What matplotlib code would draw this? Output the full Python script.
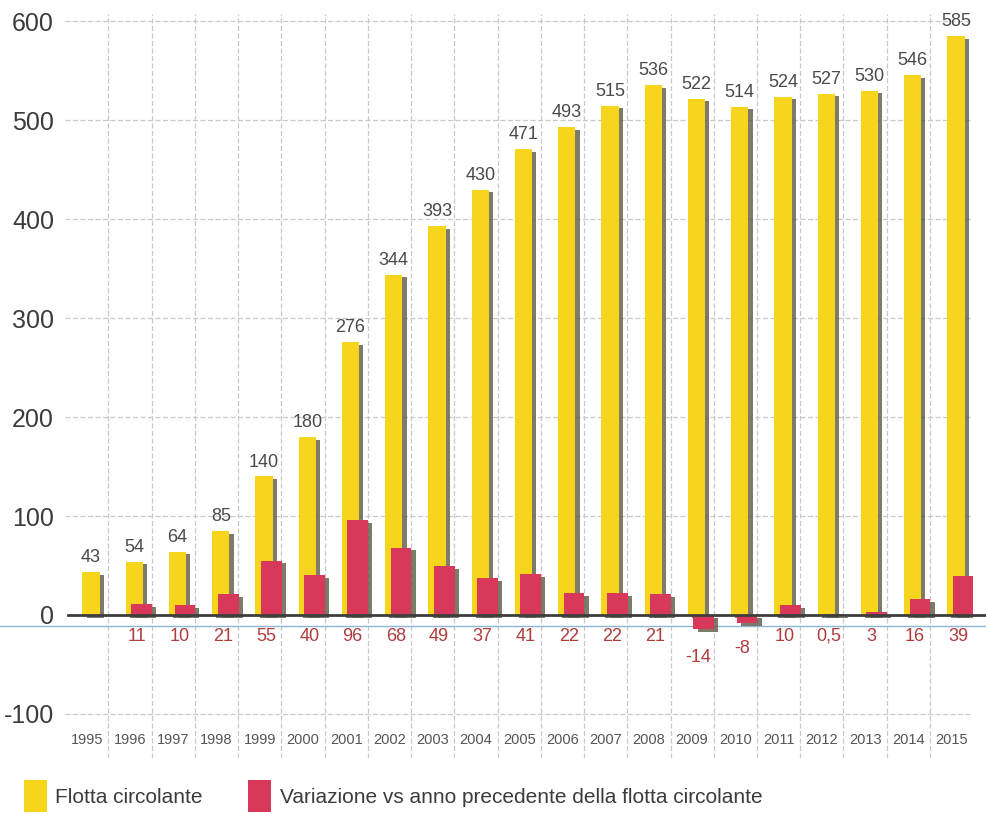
import matplotlib
matplotlib.use("Agg")
from matplotlib import pyplot as plt
from matplotlib import patheffects as pe
from matplotlib.patches import Patch
import numpy as np

plt.rcParams["font.family"] = ["Liberation Sans", "DejaVu Sans"]

# Data
years = [str(y) for y in range(1995, 2016)]
flotta = [43, 54, 64, 85, 140, 180, 276, 344, 393, 430, 471,
          493, 515, 536, 522, 514, 524, 527, 530, 546, 585]
variazione = [None, 11, 10, 21, 55, 40, 96, 68, 49, 37, 41,
              22, 22, 21, -14, -8, 10, 0.5, 3, 16, 39]

yellow = "#f6d51c"
red = "#d8385a"
shadow = [pe.SimplePatchShadow(offset=(3, -2), shadow_rgbFace="#5e5a45", alpha=0.8),
          pe.Normal()]

fig = plt.figure(figsize=(9.87, 8.27), dpi=100)
ax = fig.add_axes([0.066, 0.083, 0.92, 0.909])

x = np.arange(len(years))

# grid
for v in range(-100, 700, 100):
    if v != 0:
        ax.axhline(v, color="#c8c8c8", lw=0.9, ls=(0, (4, 2)), zorder=0)
ax.vlines(x[1:] - 0.5, -145, 608, color="#c8c8c8", lw=0.9, ls=(0, (4, 2)), zorder=0)

# bars
ax.bar(x + 0.1, flotta, width=0.4, color=yellow, zorder=2, path_effects=shadow)
var_x = [i for i, v in zip(x, variazione) if v is not None]
var_v = [v for v in variazione if v is not None]
ax.bar(np.array(var_x) + 0.27, var_v, width=0.48, color=red, zorder=3,
       path_effects=shadow)

# zero line and the blue line below it
ax.axhline(0, color="#3d3d3d", lw=2, zorder=4, xmin=0.003, xmax=1.013, clip_on=False)
ax.axhline(-11, color="#8db7d6", lw=1, zorder=1, xmin=-0.075, xmax=1.02, clip_on=False)

# value labels
for i, v in enumerate(flotta):
    ax.text(i + 0.1, v + 6, str(v), ha="center", va="bottom",
            fontsize=13, color="#4a4a4a")
for i, v in zip(var_x, var_v):
    lab = str(v).replace(".", ",") if v != int(v) else str(int(v))
    ax.text(i + 0.15, min(v, 0) * 1.5 - 13, lab, ha="center", va="top",
            fontsize=13, color="#b03c3c")

# year labels
for i, y in enumerate(years):
    ax.text(i, -126, y, ha="center", va="center", fontsize=10.5, color="#555555")

ax.set_xlim(-0.5, 20.5)
ax.set_ylim(-145, 615)
ax.set_yticks(range(-100, 700, 100))
ax.set_yticklabels([str(v) for v in range(-100, 700, 100)], fontsize=18, color="#3c3c3c")
ax.tick_params(axis="y", length=0, pad=8)
ax.set_xticks([])
for s in ax.spines.values():
    s.set_visible(False)

handles = [Patch(facecolor=yellow, edgecolor="none", label="Flotta circolante"),
           Patch(facecolor=red, edgecolor="none",
                 label="Variazione vs anno precedente della flotta circolante")]
fig.legend(handles=handles, loc="lower left", bbox_to_anchor=(0.005, -0.005), ncol=2,
           frameon=False, fontsize=15, handlelength=1.1, handleheight=2.0,
           handletextpad=0.4, columnspacing=2.2, labelcolor="#3c3c3c")

fig.savefig("out.png", dpi=100, facecolor="white")
